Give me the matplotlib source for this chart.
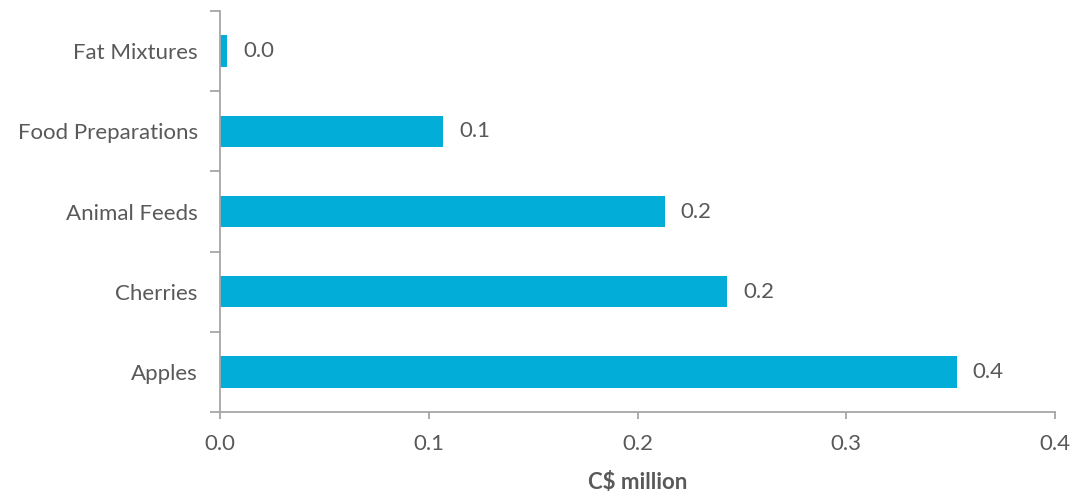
import matplotlib
matplotlib.use("Agg")
import matplotlib.pyplot as plt
import numpy as np

plt.rcParams["font.family"] = ["Lato", "DejaVu Sans"]

categories = ["Apples", "Cherries", "Animal Feeds", "Food Preparations", "Fat Mixtures"]
values = [0.353, 0.243, 0.213, 0.107, 0.0035]
xticks = [0.0, 0.1, 0.2, 0.3, 0.4]

bar_color = "#02ADD8"
text_color = "#595959"
axis_color = "#A6A6A6"
fs = 16

fig = plt.figure(figsize=(10.73, 4.96), dpi=100)
ax = fig.add_axes([220 / 1073, 1 - 412 / 496, 835 / 1073, 401 / 496])

y = np.arange(len(categories))
ax.barh(y, values, height=0.39, color=bar_color)

# value labels to the right of each bar
for yi, v in zip(y, values):
    ax.text(v + 0.0075, yi, f"{v:.1f}", va="center", ha="left",
            fontsize=fs, color=text_color)

ax.set_xlim(0, 0.4)
ax.set_ylim(-0.5, len(categories) - 0.5)

ax.set_xticks(xticks)
ax.set_xticklabels([f"{t:.1f}" for t in xticks])
ax.set_yticks(y)
ax.set_yticklabels(categories)
# category boundary ticks, Excel style
ax.set_yticks(np.arange(-0.5, len(categories), 1.0), minor=True)

for side in ["top", "right"]:
    ax.spines[side].set_visible(False)
for side in ["left", "bottom"]:
    ax.spines[side].set_color(axis_color)
    ax.spines[side].set_linewidth(1.3)

ax.tick_params(axis="y", which="major", length=0, pad=16, labelsize=fs, labelcolor=text_color)
ax.tick_params(axis="y", which="minor", length=7, width=1.3, color=axis_color)
ax.tick_params(axis="x", which="major", length=5, width=1.3, color=axis_color,
               pad=11, labelsize=fs, labelcolor=text_color)

ax.set_xlabel("C$ million", fontsize=fs, fontweight="bold", color=text_color, labelpad=13)

fig.savefig("out.png", dpi=100)
